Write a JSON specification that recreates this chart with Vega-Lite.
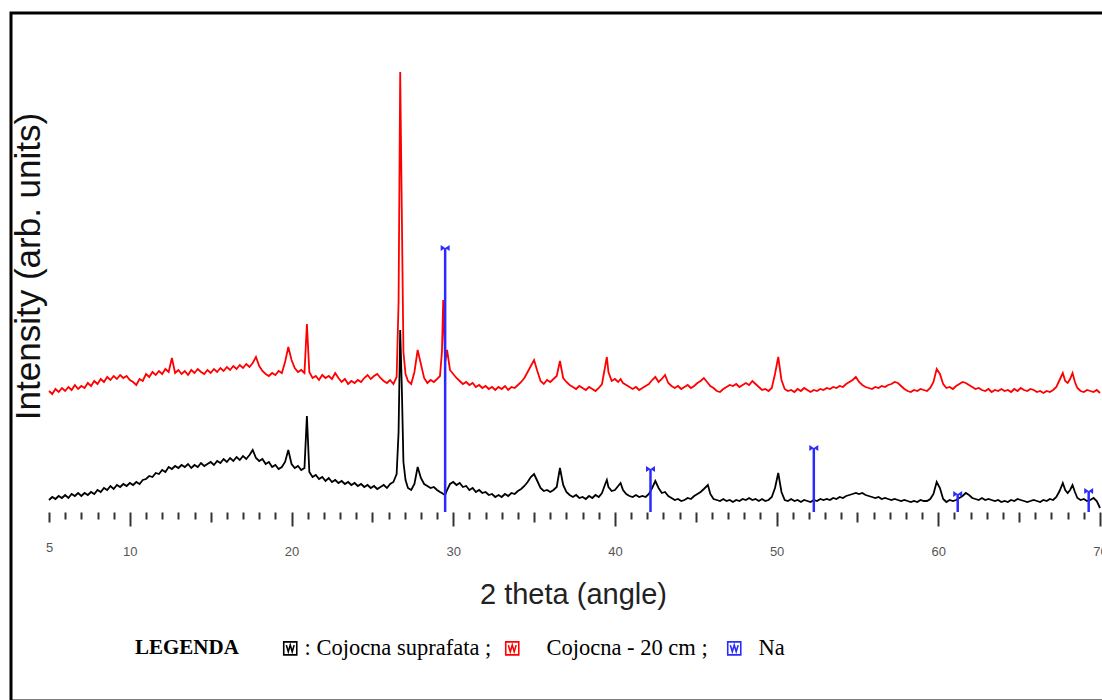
{
 "$schema": "https://vega.github.io/schema/vega-lite/v6.json",
 "width": 1100,
 "height": 688,
 "autosize": {"type": "none"},
 "padding": {"left": 11, "top": 13, "right": 0, "bottom": 0},
 "background": "white",
 "config": {"view": {"stroke": "#000", "strokeWidth": 3}, "font": "Liberation Sans"},
 "datasets": {
  "xrd": [
{"theta":5.0,"sup":12,"cm20":121},{"theta":5.2,"sup":15,"cm20":118},{"theta":5.4,"sup":13,"cm20":123},{"theta":5.6,"sup":16,"cm20":120},{"theta":5.8,"sup":14,"cm20":124},
{"theta":6.0,"sup":17,"cm20":121},{"theta":6.2,"sup":14,"cm20":125},{"theta":6.4,"sup":18,"cm20":122},{"theta":6.6,"sup":16,"cm20":127},{"theta":6.8,"sup":19,"cm20":123},
{"theta":7.0,"sup":16,"cm20":126},{"theta":7.2,"sup":19,"cm20":124},{"theta":7.4,"sup":17,"cm20":129},{"theta":7.6,"sup":20,"cm20":126},{"theta":7.8,"sup":18,"cm20":131},
{"theta":8.0,"sup":22,"cm20":128},{"theta":8.2,"sup":20,"cm20":133},{"theta":8.4,"sup":24,"cm20":130},{"theta":8.6,"sup":22,"cm20":135},{"theta":8.8,"sup":26,"cm20":132},
{"theta":9.0,"sup":23,"cm20":136},{"theta":9.2,"sup":27,"cm20":133},{"theta":9.4,"sup":25,"cm20":137},{"theta":9.6,"sup":28,"cm20":134},{"theta":9.8,"sup":26,"cm20":136},
{"theta":10.0,"sup":29,"cm20":132},{"theta":10.2,"sup":27,"cm20":130},{"theta":10.4,"sup":30,"cm20":127},{"theta":10.6,"sup":28,"cm20":133},{"theta":10.8,"sup":32,"cm20":131},
{"theta":11.0,"sup":33,"cm20":138},{"theta":11.2,"sup":36,"cm20":135},{"theta":11.4,"sup":35,"cm20":140},{"theta":11.6,"sup":39,"cm20":137},{"theta":11.8,"sup":38,"cm20":141},
{"theta":12.0,"sup":42,"cm20":138},{"theta":12.2,"sup":40,"cm20":143},{"theta":12.4,"sup":45,"cm20":140},{"theta":12.6,"sup":43,"cm20":154},{"theta":12.8,"sup":46,"cm20":139},
{"theta":13.0,"sup":44,"cm20":142},{"theta":13.2,"sup":47,"cm20":138},{"theta":13.4,"sup":45,"cm20":141},{"theta":13.6,"sup":48,"cm20":137},{"theta":13.8,"sup":44,"cm20":142},
{"theta":14.0,"sup":47,"cm20":139},{"theta":14.2,"sup":45,"cm20":143},{"theta":14.4,"sup":49,"cm20":140},{"theta":14.6,"sup":46,"cm20":138},{"theta":14.8,"sup":48,"cm20":142},
{"theta":15.0,"sup":50,"cm20":139},{"theta":15.2,"sup":47,"cm20":143},{"theta":15.4,"sup":51,"cm20":140},{"theta":15.6,"sup":49,"cm20":144},{"theta":15.8,"sup":53,"cm20":141},
{"theta":16.0,"sup":50,"cm20":145},{"theta":16.2,"sup":54,"cm20":142},{"theta":16.4,"sup":51,"cm20":146},{"theta":16.6,"sup":55,"cm20":143},{"theta":16.8,"sup":52,"cm20":147},
{"theta":17.0,"sup":56,"cm20":144},{"theta":17.2,"sup":53,"cm20":148},{"theta":17.4,"sup":57,"cm20":145},{"theta":17.6,"sup":62,"cm20":149},{"theta":17.8,"sup":54,"cm20":155},
{"theta":18.0,"sup":51,"cm20":146},{"theta":18.2,"sup":53,"cm20":141},{"theta":18.4,"sup":48,"cm20":138},{"theta":18.6,"sup":50,"cm20":136},{"theta":18.8,"sup":45,"cm20":139},
{"theta":19.0,"sup":47,"cm20":137},{"theta":19.2,"sup":43,"cm20":141},{"theta":19.4,"sup":45,"cm20":139},{"theta":19.6,"sup":50,"cm20":150},{"theta":19.8,"sup":62,"cm20":165},
{"theta":20.0,"sup":48,"cm20":152},{"theta":20.2,"sup":44,"cm20":144},{"theta":20.4,"sup":46,"cm20":140},{"theta":20.6,"sup":42,"cm20":142},{"theta":20.8,"sup":44,"cm20":139},
{"theta":20.95,"sup":96,"cm20":188},{"theta":21.1,"sup":40,"cm20":140},{"theta":21.3,"sup":35,"cm20":134},{"theta":21.5,"sup":37,"cm20":136},{"theta":21.7,"sup":33,"cm20":132},
{"theta":21.9,"sup":35,"cm20":137},{"theta":22.1,"sup":31,"cm20":134},{"theta":22.3,"sup":34,"cm20":136},{"theta":22.5,"sup":30,"cm20":133},{"theta":22.7,"sup":32,"cm20":139},
{"theta":22.9,"sup":29,"cm20":134},{"theta":23.1,"sup":31,"cm20":130},{"theta":23.3,"sup":28,"cm20":133},{"theta":23.5,"sup":30,"cm20":128},{"theta":23.7,"sup":27,"cm20":131},
{"theta":23.9,"sup":29,"cm20":129},{"theta":24.1,"sup":26,"cm20":132},{"theta":24.3,"sup":28,"cm20":130},{"theta":24.5,"sup":25,"cm20":134},{"theta":24.7,"sup":27,"cm20":137},
{"theta":24.9,"sup":24,"cm20":133},{"theta":25.1,"sup":26,"cm20":136},{"theta":25.3,"sup":23,"cm20":138},{"theta":25.5,"sup":25,"cm20":134},{"theta":25.7,"sup":27,"cm20":131},
{"theta":25.9,"sup":24,"cm20":129},{"theta":26.1,"sup":28,"cm20":132},{"theta":26.3,"sup":30,"cm20":128},{"theta":26.5,"sup":38,"cm20":135},{"theta":26.62,"sup":80,"cm20":210},
{"theta":26.72,"sup":182,"cm20":440},{"theta":26.82,"sup":125,"cm20":300},{"theta":26.92,"sup":50,"cm20":160},{"theta":27.05,"sup":32,"cm20":138},{"theta":27.2,"sup":24,"cm20":131},
{"theta":27.4,"sup":22,"cm20":128},{"theta":27.6,"sup":28,"cm20":140},{"theta":27.8,"sup":45,"cm20":162},{"theta":28.0,"sup":34,"cm20":148},{"theta":28.2,"sup":28,"cm20":134},
{"theta":28.4,"sup":26,"cm20":129},{"theta":28.6,"sup":24,"cm20":132},{"theta":28.8,"sup":25,"cm20":130},{"theta":29.0,"sup":22,"cm20":133},{"theta":29.18,"sup":20,"cm20":136},
{"theta":29.3,"sup":19,"cm20":160},{"theta":29.38,"sup":18,"cm20":212},{"theta":29.5,"sup":17,"cm20":150},{"theta":29.62,"sup":22,"cm20":162},{"theta":29.8,"sup":28,"cm20":142},
{"theta":30.0,"sup":30,"cm20":138},{"theta":30.2,"sup":27,"cm20":134},{"theta":30.4,"sup":29,"cm20":131},{"theta":30.6,"sup":25,"cm20":128},{"theta":30.8,"sup":26,"cm20":130},
{"theta":31.0,"sup":22,"cm20":127},{"theta":31.2,"sup":24,"cm20":129},{"theta":31.4,"sup":20,"cm20":125},{"theta":31.6,"sup":22,"cm20":127},{"theta":31.8,"sup":19,"cm20":124},
{"theta":32.0,"sup":20,"cm20":126},{"theta":32.2,"sup":17,"cm20":123},{"theta":32.4,"sup":18,"cm20":125},{"theta":32.6,"sup":15,"cm20":122},{"theta":32.8,"sup":17,"cm20":125},
{"theta":33.0,"sup":15,"cm20":123},{"theta":33.2,"sup":18,"cm20":126},{"theta":33.4,"sup":16,"cm20":122},{"theta":33.6,"sup":19,"cm20":125},{"theta":33.8,"sup":18,"cm20":124},
{"theta":34.0,"sup":21,"cm20":127},{"theta":34.2,"sup":23,"cm20":130},{"theta":34.4,"sup":26,"cm20":134},{"theta":34.6,"sup":30,"cm20":140},{"theta":34.8,"sup":35,"cm20":146},
{"theta":35.0,"sup":38,"cm20":152},{"theta":35.2,"sup":31,"cm20":141},{"theta":35.4,"sup":24,"cm20":131},{"theta":35.6,"sup":21,"cm20":128},{"theta":35.8,"sup":22,"cm20":132},
{"theta":36.0,"sup":20,"cm20":130},{"theta":36.2,"sup":22,"cm20":133},{"theta":36.4,"sup":25,"cm20":136},{"theta":36.6,"sup":44,"cm20":151},{"theta":36.8,"sup":27,"cm20":134},
{"theta":37.0,"sup":20,"cm20":130},{"theta":37.2,"sup":17,"cm20":127},{"theta":37.4,"sup":15,"cm20":125},{"theta":37.6,"sup":17,"cm20":123},{"theta":37.8,"sup":14,"cm20":126},
{"theta":38.0,"sup":15,"cm20":124},{"theta":38.2,"sup":13,"cm20":122},{"theta":38.4,"sup":16,"cm20":125},{"theta":38.6,"sup":14,"cm20":123},{"theta":38.8,"sup":17,"cm20":121},
{"theta":39.0,"sup":15,"cm20":124},{"theta":39.2,"sup":19,"cm20":128},{"theta":39.4,"sup":28,"cm20":146},{"theta":39.5,"sup":32,"cm20":155},{"theta":39.6,"sup":25,"cm20":140},
{"theta":39.8,"sup":21,"cm20":131},{"theta":40.0,"sup":22,"cm20":133},{"theta":40.2,"sup":26,"cm20":130},{"theta":40.35,"sup":29,"cm20":133},{"theta":40.5,"sup":22,"cm20":129},
{"theta":40.7,"sup":18,"cm20":127},{"theta":40.9,"sup":16,"cm20":125},{"theta":41.1,"sup":15,"cm20":123},{"theta":41.3,"sup":17,"cm20":125},{"theta":41.5,"sup":15,"cm20":122},
{"theta":41.7,"sup":16,"cm20":124},{"theta":41.9,"sup":15,"cm20":126},{"theta":42.1,"sup":18,"cm20":128},{"theta":42.3,"sup":24,"cm20":132},{"theta":42.5,"sup":31,"cm20":135},
{"theta":42.7,"sup":24,"cm20":130},{"theta":42.9,"sup":19,"cm20":133},{"theta":43.1,"sup":20,"cm20":137},{"theta":43.3,"sup":16,"cm20":129},{"theta":43.5,"sup":14,"cm20":126},
{"theta":43.7,"sup":12,"cm20":124},{"theta":43.9,"sup":13,"cm20":126},{"theta":44.1,"sup":11,"cm20":123},{"theta":44.3,"sup":12,"cm20":125},{"theta":44.5,"sup":14,"cm20":127},
{"theta":44.7,"sup":13,"cm20":124},{"theta":44.9,"sup":16,"cm20":126},{"theta":45.1,"sup":18,"cm20":129},{"theta":45.3,"sup":20,"cm20":131},{"theta":45.5,"sup":23,"cm20":134},
{"theta":45.75,"sup":27,"cm20":129},{"theta":45.9,"sup":18,"cm20":126},{"theta":46.1,"sup":13,"cm20":124},{"theta":46.3,"sup":12,"cm20":121},{"theta":46.5,"sup":11,"cm20":120},
{"theta":46.7,"sup":13,"cm20":123},{"theta":46.9,"sup":11,"cm20":125},{"theta":47.1,"sup":12,"cm20":127},{"theta":47.3,"sup":10,"cm20":126},{"theta":47.5,"sup":12,"cm20":128},
{"theta":47.7,"sup":11,"cm20":125},{"theta":47.9,"sup":13,"cm20":127},{"theta":48.1,"sup":12,"cm20":129},{"theta":48.3,"sup":14,"cm20":127},{"theta":48.5,"sup":12,"cm20":131},
{"theta":48.7,"sup":13,"cm20":128},{"theta":48.9,"sup":11,"cm20":125},{"theta":49.1,"sup":13,"cm20":122},{"theta":49.3,"sup":11,"cm20":123},{"theta":49.5,"sup":12,"cm20":121},
{"theta":49.7,"sup":15,"cm20":124},{"theta":49.9,"sup":24,"cm20":138},{"theta":50.1,"sup":39,"cm20":155},{"theta":50.3,"sup":20,"cm20":132},{"theta":50.5,"sup":12,"cm20":123},
{"theta":50.7,"sup":11,"cm20":121},{"theta":50.9,"sup":13,"cm20":122},{"theta":51.1,"sup":11,"cm20":120},{"theta":51.3,"sup":12,"cm20":123},{"theta":51.5,"sup":10,"cm20":121},
{"theta":51.7,"sup":12,"cm20":124},{"theta":51.9,"sup":11,"cm20":122},{"theta":52.1,"sup":10,"cm20":120},{"theta":52.3,"sup":12,"cm20":122},{"theta":52.5,"sup":11,"cm20":121},
{"theta":52.7,"sup":13,"cm20":123},{"theta":52.9,"sup":12,"cm20":122},{"theta":53.1,"sup":13,"cm20":124},{"theta":53.3,"sup":12,"cm20":123},{"theta":53.5,"sup":14,"cm20":125},
{"theta":53.7,"sup":13,"cm20":124},{"theta":53.9,"sup":15,"cm20":126},{"theta":54.1,"sup":14,"cm20":125},{"theta":54.3,"sup":16,"cm20":128},{"theta":54.5,"sup":17,"cm20":130},
{"theta":54.7,"sup":18,"cm20":132},{"theta":54.9,"sup":19,"cm20":135},{"theta":55.1,"sup":18,"cm20":130},{"theta":55.3,"sup":19,"cm20":127},{"theta":55.5,"sup":17,"cm20":125},
{"theta":55.7,"sup":16,"cm20":124},{"theta":55.9,"sup":15,"cm20":123},{"theta":56.1,"sup":14,"cm20":125},{"theta":56.3,"sup":15,"cm20":124},{"theta":56.5,"sup":13,"cm20":126},
{"theta":56.7,"sup":14,"cm20":125},{"theta":56.9,"sup":13,"cm20":127},{"theta":57.1,"sup":12,"cm20":128},{"theta":57.3,"sup":13,"cm20":130},{"theta":57.5,"sup":12,"cm20":129},
{"theta":57.7,"sup":11,"cm20":126},{"theta":57.9,"sup":12,"cm20":123},{"theta":58.1,"sup":11,"cm20":121},{"theta":58.3,"sup":10,"cm20":120},{"theta":58.5,"sup":11,"cm20":122},
{"theta":58.7,"sup":10,"cm20":121},{"theta":58.9,"sup":12,"cm20":123},{"theta":59.1,"sup":11,"cm20":122},{"theta":59.3,"sup":11,"cm20":121},{"theta":59.5,"sup":13,"cm20":124},
{"theta":59.7,"sup":18,"cm20":130},{"theta":59.9,"sup":30,"cm20":143},{"theta":60.1,"sup":24,"cm20":138},{"theta":60.3,"sup":13,"cm20":128},{"theta":60.5,"sup":10,"cm20":124},
{"theta":60.7,"sup":12,"cm20":125},{"theta":60.9,"sup":11,"cm20":123},{"theta":61.1,"sup":12,"cm20":126},{"theta":61.3,"sup":14,"cm20":128},{"theta":61.5,"sup":16,"cm20":130},
{"theta":61.7,"sup":19,"cm20":129},{"theta":61.9,"sup":17,"cm20":127},{"theta":62.1,"sup":14,"cm20":125},{"theta":62.3,"sup":13,"cm20":123},{"theta":62.5,"sup":12,"cm20":124},
{"theta":62.7,"sup":14,"cm20":122},{"theta":62.9,"sup":12,"cm20":121},{"theta":63.1,"sup":13,"cm20":123},{"theta":63.3,"sup":12,"cm20":120},{"theta":63.5,"sup":11,"cm20":122},
{"theta":63.7,"sup":12,"cm20":121},{"theta":63.9,"sup":10,"cm20":123},{"theta":64.1,"sup":11,"cm20":121},{"theta":64.3,"sup":10,"cm20":122},{"theta":64.5,"sup":12,"cm20":120},
{"theta":64.7,"sup":11,"cm20":123},{"theta":64.9,"sup":13,"cm20":121},{"theta":65.1,"sup":12,"cm20":124},{"theta":65.3,"sup":11,"cm20":122},{"theta":65.5,"sup":10,"cm20":121},
{"theta":65.7,"sup":11,"cm20":123},{"theta":65.9,"sup":12,"cm20":122},{"theta":66.1,"sup":11,"cm20":120},{"theta":66.3,"sup":10,"cm20":121},{"theta":66.5,"sup":12,"cm20":119},
{"theta":66.7,"sup":11,"cm20":121},{"theta":66.9,"sup":13,"cm20":120},{"theta":67.1,"sup":12,"cm20":122},{"theta":67.3,"sup":15,"cm20":125},{"theta":67.5,"sup":21,"cm20":132},
{"theta":67.7,"sup":29,"cm20":139},{"theta":67.85,"sup":22,"cm20":131},{"theta":68.0,"sup":19,"cm20":129},{"theta":68.15,"sup":22,"cm20":133},{"theta":68.3,"sup":27,"cm20":139},
{"theta":68.45,"sup":20,"cm20":130},{"theta":68.6,"sup":14,"cm20":124},{"theta":68.8,"sup":12,"cm20":121},{"theta":69.0,"sup":13,"cm20":120},{"theta":69.2,"sup":11,"cm20":122},
{"theta":69.4,"sup":12,"cm20":121},{"theta":69.6,"sup":14,"cm20":120},{"theta":69.8,"sup":11,"cm20":122},{"theta":70.0,"sup":4,"cm20":119}
  ],
  "na": [
   {"theta": 29.5, "intensity": 264, "series": "Na"},
   {"theta": 42.2, "intensity": 43, "series": "Na"},
   {"theta": 52.3, "intensity": 64, "series": "Na"},
   {"theta": 61.2, "intensity": 18, "series": "Na"},
   {"theta": 69.3, "intensity": 21, "series": "Na"}
  ]
 },
 "layer": [
  {
   "data": {"name": "xrd"},
   "mark": {"type": "line", "strokeWidth": 1.8},
   "encoding": {
    "x": {
     "field": "theta", "type": "quantitative",
     "scale": {"domain": [2.65, 70.68], "nice": false, "zero": false},
     "axis": {
      "orient": "bottom", "offset": -189, "domain": false, "grid": false, "tickCount": 500, "format": "d",
      "values": [5,6,7,8,9,10,11,12,13,14,15,16,17,18,19,20,21,22,23,24,25,26,27,28,29,30,31,32,33,34,35,36,37,38,39,40,41,42,43,44,45,46,47,48,49,50,51,52,53,54,55,56,57,58,59,60,61,62,63,64,65,66,67,68,69,70],
      "tickColor": "#333", "tickWidth": 2,
      "tickSize": {"condition": [{"test": "datum.value % 10 === 0", "value": 14}, {"test": "datum.value % 5 === 0", "value": 10}], "value": 7},
      "labelExpr": "indexof([5,10,20,30,40,50,60,70], datum.value) >= 0 ? datum.label : ''",
      "labelFont": "Liberation Sans", "labelFontSize": 13, "labelColor": "#555", "labelPadding": 19, "labelFlush": false, "labelOverlap": false,
      "title": "2 theta (angle)", "titleFont": "Liberation Sans", "titleFontSize": 29, "titleFontWeight": "normal", "titleColor": "#222",
      "titleX": 562, "titleY": 91, "titleBaseline": "alphabetic"
     }
    },
    "y": {
     "field": "cm20", "type": "quantitative",
     "scale": {"domain": [-189, 499], "nice": false, "zero": false},
     "axis": {
      "orient": "left", "offset": -38, "domain": false, "ticks": false, "labels": false, "grid": false,
      "title": "Intensity (arb. units)", "titleFont": "Liberation Sans", "titleFontSize": 35, "titleFontWeight": "normal", "titleColor": "#111",
      "titlePadding": 3, "titleY": 253
     }
    },
    "color": {
     "datum": "cm20",
     "scale": {"domain": ["sup", "cm20", "Na"], "range": ["#000000", "#ff0000", "#2a2aff"]},
     "legend": {
      "orient": "none", "legendX": 124, "legendY": 624, "direction": "horizontal", "columns": 3, "gridAlign": "all",
      "title": "LEGENDA", "titleOrient": "left", "titleFont": "Liberation Serif", "titleFontSize": 21, "titleFontWeight": "bold", "titleColor": "#000", "titlePadding": 40,
      "labelFont": "Liberation Serif", "labelFontSize": 22.5, "labelColor": "#000", "labelLimit": 400, "labelOffset": 3, "columnPadding": 9,
      "labelExpr": "datum.label === 'sup' ? ': Cojocna suprafata ;' : datum.label === 'cm20' ? 'Cojocna - 20 cm ;' : 'Na'",
      "symbolType": "M-1,-1L1,-1L1,1L-1,1Z M-0.6,-0.5L-0.3,0.5L0,-0.5L0.3,0.5L0.6,-0.5",
      "symbolStrokeWidth": 1.6, "symbolSize": 170, "symbolFillColor": "white",
      "encode": {
       "symbols": {"update": {"fill": {"value": "white"}, "fillOpacity": {"value": 1}}},
       "labels": {"update": {"dx": {"signal": "datum.value === 'cm20' ? 20 : datum.value === 'Na' ? 10 : 0"}}}
      }
     }
    }
   }
  },
  {
   "data": {"name": "xrd"},
   "mark": {"type": "line", "strokeWidth": 1.8},
   "encoding": {
    "x": {"field": "theta", "type": "quantitative"},
    "y": {"field": "sup", "type": "quantitative"},
    "color": {"datum": "sup"}
   }
  },
  {
   "data": {"name": "na"},
   "mark": {"type": "rule", "strokeWidth": 2.5, "color": "#2a2aff"},
   "encoding": {
    "x": {"field": "theta", "type": "quantitative"},
    "y": {"field": "intensity", "type": "quantitative"},
    "y2": {"datum": 0}
   }
  },
  {
   "data": {"name": "na"},
   "mark": {"type": "point", "filled": true, "opacity": 1, "size": 80, "color": "#2a2aff", "shape": "M-1,-0.65L1,0.65L1,-0.65L-1,0.65Z"},
   "encoding": {
    "x": {"field": "theta", "type": "quantitative"},
    "y": {"field": "intensity", "type": "quantitative"}
   }
  },
  {
   "mark": {"type": "rule", "color": "#333", "strokeWidth": 2},
   "encoding": {"x": {"datum": 5}, "y": {"datum": 0}, "y2": {"datum": 486}}
  },
  {
   "mark": {"type": "rule", "color": "#333", "strokeWidth": 2},
   "encoding": {"x": {"datum": 5}, "x2": {"datum": 70}, "y": {"datum": 0}}
  },
  {
   "mark": {"type": "rule", "color": "#111", "strokeWidth": 3},
   "encoding": {"y": {"datum": -110}}
  }
 ]
}
